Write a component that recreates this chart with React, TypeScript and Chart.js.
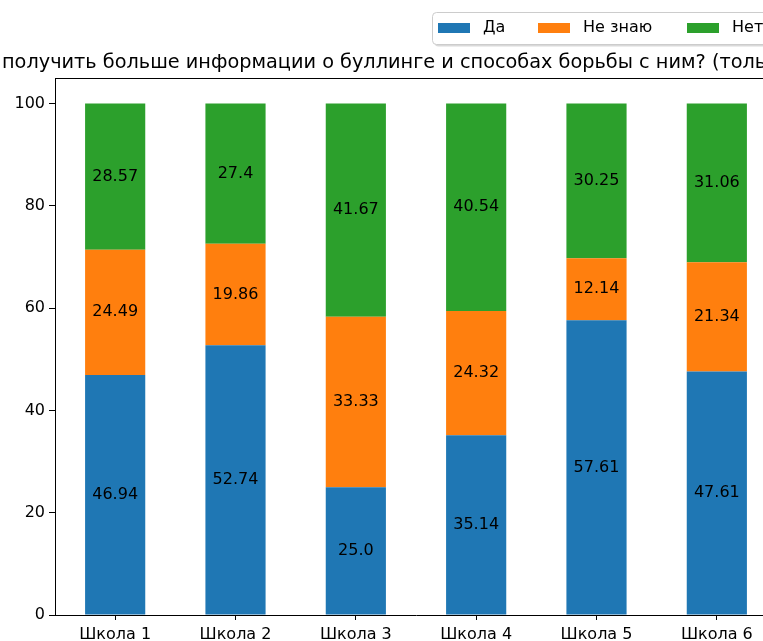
import React, { useEffect, useRef } from "react";
import { Chart, registerables } from "chart.js";

Chart.register(...registerables);

const categories = ["Школа 1", "Школа 2", "Школа 3", "Школа 4", "Школа 5", "Школа 6"];
const daValues = [46.94, 52.74, 25.0, 35.14, 57.61, 47.61];
const neZnayuValues = [24.49, 19.86, 33.33, 24.32, 12.14, 21.34];
const netValues = [28.57, 27.4, 41.67, 40.54, 30.25, 31.06];
const seriesNames = ["Да", "Не знаю", "Нет"];
const seriesColors = ["#1f77b4", "#ff7f0e", "#2ca02c"];
const yTicks = [0, 20, 40, 60, 80, 100];
const titleText =
  "получить больше информации о буллинге и способах борьбы с ним? (только один ответ)";

const FONT = "'DejaVu Sans', sans-serif";

function fmt(v: number): string {
  return Number.isInteger(v) ? v.toFixed(1) : String(v);
}

const decorPlugin = {
  id: "decor",
  afterDatasetsDraw(chart: any) {
    const ctx = chart.ctx;
    ctx.save();
    ctx.fillStyle = "#000";
    ctx.font = `16px ${FONT}`;
    ctx.textAlign = "center";
    ctx.textBaseline = "middle";
    chart.data.datasets.forEach((ds: any, di: number) => {
      const meta = chart.getDatasetMeta(di);
      meta.data.forEach((bar: any, i: number) => {
        const y = (bar.y + bar.base) / 2;
        ctx.fillText(fmt(ds.data[i]), bar.x, y);
      });
    });
    ctx.restore();
  },
  afterDraw(chart: any) {
    const ctx = chart.ctx;
    const a = chart.chartArea;
    ctx.save();
    // spines
    ctx.strokeStyle = "#000";
    ctx.lineWidth = 1;
    ctx.beginPath();
    ctx.moveTo(a.left, a.top + 0.5);
    ctx.lineTo(a.right, a.top + 0.5);
    ctx.moveTo(a.right - 0.5, a.top);
    ctx.lineTo(a.right - 0.5, a.bottom);
    ctx.stroke();

    // title
    ctx.fillStyle = "#000";
    ctx.font = `19.3px ${FONT}`;
    ctx.textAlign = "left";
    ctx.textBaseline = "alphabetic";
    ctx.fillText(titleText, 2, 68);

    // legend
    const lx = 432.5, ly = 12.5, lw = 420, lh = 32, r = 4;
    const rr = (x: number, y: number) => {
      ctx.beginPath();
      ctx.moveTo(x + r, y);
      ctx.lineTo(x + lw - r, y);
      ctx.arcTo(x + lw, y, x + lw, y + r, r);
      ctx.lineTo(x + lw, y + lh - r);
      ctx.arcTo(x + lw, y + lh, x + lw - r, y + lh, r);
      ctx.lineTo(x + r, y + lh);
      ctx.arcTo(x, y + lh, x, y + lh - r, r);
      ctx.lineTo(x, y + r);
      ctx.arcTo(x, y, x + r, y, r);
      ctx.closePath();
    };
    ctx.fillStyle = "rgba(0,0,0,0.15)";
    rr(lx + 2, ly + 2);
    ctx.fill();
    ctx.fillStyle = "#fff";
    rr(lx, ly);
    ctx.fill();
    ctx.strokeStyle = "#cccccc";
    ctx.lineWidth = 1;
    ctx.stroke();

    const patchX = [438, 538, 687];
    ctx.font = `16px ${FONT}`;
    ctx.textBaseline = "middle";
    seriesNames.forEach((name, i) => {
      ctx.fillStyle = seriesColors[i];
      ctx.fillRect(patchX[i], 23, 32, 10);
      ctx.fillStyle = "#000";
      ctx.fillText(name, patchX[i] + 45, 28);
    });
    ctx.restore();
  },
};

export default function App() {
  const ref = useRef<HTMLCanvasElement | null>(null);
  useEffect(() => {
    if (!ref.current) return;
    const datasetsValues = [daValues, neZnayuValues, netValues];
    const chart = new Chart(ref.current, {
      type: "bar",
      data: {
        labels: categories,
        datasets: datasetsValues.map((vals, i) => ({
          label: seriesNames[i],
          data: vals,
          backgroundColor: seriesColors[i],
          borderWidth: 0,
          barPercentage: 0.5,
          categoryPercentage: 1,
        })),
      },
      options: {
        animation: false,
        responsive: false,
        devicePixelRatio: 1,
        layout: { padding: { left: 0, right: 23, top: 78, bottom: 0 } },
        plugins: { legend: { display: false }, title: { display: false }, tooltip: { enabled: false } },
        scales: {
          x: {
            stacked: true,
            offset: true,
            grid: { offset: false, drawOnChartArea: false, drawTicks: true, tickLength: 5, color: "#000" },
            border: { display: true, color: "#000", width: 1 },
            ticks: { color: "#000", font: { family: FONT, size: 16 }, padding: 5, maxRotation: 0 },
            afterFit: (s: any) => { s.height = 26; },
          },
          y: {
            stacked: true,
            min: 0,
            max: 105,
            afterBuildTicks: (s: any) => { s.ticks = yTicks.map((v) => ({ value: v })); },
            grid: { drawOnChartArea: false, drawTicks: true, tickLength: 6, color: "#000" },
            border: { display: true, color: "#000", width: 1 },
            ticks: { color: "#000", font: { family: FONT, size: 16 }, padding: 4 },
            afterFit: (s: any) => { s.width = 55; },
          },
        },
      },
      plugins: [decorPlugin],
    });
    return () => chart.destroy();
  }, []);
  return (
    <div style={{ position: "fixed", left: 0, top: 0, width: 763, height: 641, overflow: "hidden", background: "#fff" }}>
      <canvas ref={ref} width={800} height={641} style={{ display: "block" }} />
    </div>
  );
}
